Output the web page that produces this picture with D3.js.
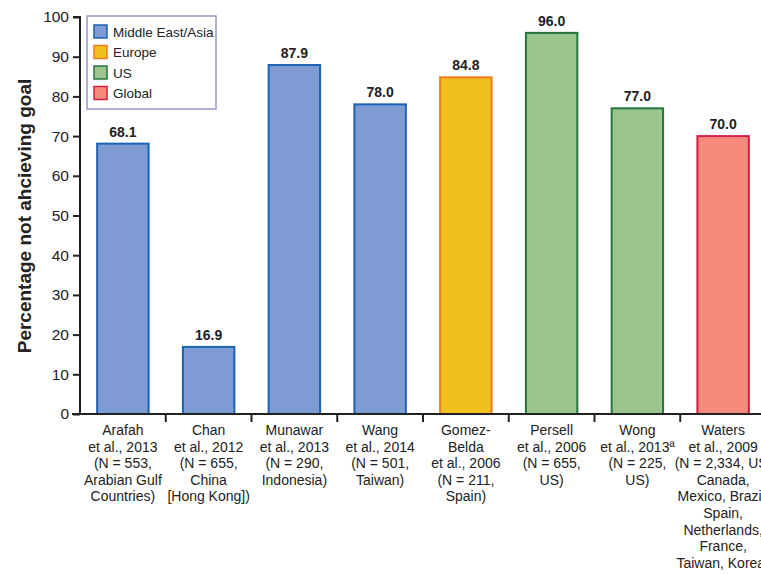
<!DOCTYPE html>
<html>
<head>
<meta charset="utf-8">
<script src="https://cdn.jsdelivr.net/npm/d3@7"></script>
<style>
  body { margin: 0; background: #fff; }
  text { font-family: "Liberation Sans", Arial, Helvetica, sans-serif; }
</style>
</head>
<body>
<div id="chart"></div>
<script>
// datos
var studies = ["Arafah", "Chan", "Munawar", "Wang", "Gomez", "Persell", "Wong", "Waters"];
var values = [68.1, 16.9, 87.9, 78.0, 84.8, 96.0, 77.0, 70.0];
var regions = ["Middle East/Asia", "Middle East/Asia", "Middle East/Asia", "Middle East/Asia", "Europe", "US", "US", "Global"];
var labels = [
    ["Arafah", "et al., 2013", "(N = 553,", "Arabian Gulf", "Countries)"],
    ["Chan", "et al., 2012", "(N = 655,", "China", "[Hong Kong])"],
    ["Munawar", "et al., 2013", "(N = 290,", "Indonesia)"],
    ["Wang", "et al., 2014", "(N = 501,", "Taiwan)"],
    ["Gomez-", "Belda", "et al., 2006", "(N = 211,", "Spain)"],
    ["Persell", "et al., 2006", "(N = 655,", "US)"],
    ["Wong", "et al., 2013ª", "(N = 225,", "US)"],
    ["Waters", "et al., 2009", "(N = 2,334, US,", "Canada,", "Mexico, Brazil,", "Spain,", "Netherlands,", "France,", "Taiwan, Korea)"]
];
var legendNames = ["Middle East/Asia", "Europe", "US", "Global"];
var fills = ["#7f9bd3", "#f0c01e", "#9bc48e", "#f68b7c"];
var strokes = ["#1c62b4", "#f07a1e", "#22773c", "#d11f45"];
var yTicks = [0, 10, 20, 30, 40, 50, 60, 70, 80, 90, 100];

var width = 761;
var height = 574;

var svg = d3.select('#chart')
    .append('svg')
    .attr('width', width)
    .attr('height', height);

var x = d3.scaleBand()
    .domain(studies)
    .range([80, 766])
    .paddingInner(0.4)
    .paddingOuter(0.2);

var y = d3.scaleLinear()
    .domain([0, 100])
    .range([414, 17]);

var fillScale = d3.scaleOrdinal().domain(legendNames).range(fills);
var strokeScale = d3.scaleOrdinal().domain(legendNames).range(strokes);

// barras
svg.append('g')
    .selectAll('rect')
    .data(values)
    .enter()
    .append('rect')
    .attr('x', (d, i) => x(studies[i]))
    .attr('y', (d) => y(d))
    .attr('width', x.bandwidth())
    .attr('height', (d) => y(0) - y(d))
    .attr('fill', (d, i) => fillScale(regions[i]))
    .attr('stroke', (d, i) => strokeScale(regions[i]))
    .attr('stroke-width', 2);

// valores encima
svg.append('g')
    .selectAll('text')
    .data(values)
    .enter()
    .append('text')
    .attr('x', (d, i) => x(studies[i]) + x.bandwidth() / 2)
    .attr('y', (d) => y(d) - 7)
    .attr('text-anchor', 'middle')
    .attr('font-size', 14)
    .attr('font-weight', 'bold')
    .attr('fill', '#222')
    .text((d) => d.toFixed(1));

// eje y
var yAxis = d3.axisLeft(y)
    .tickValues(yTicks)
    .tickSize(7)
    .tickPadding(4);

var gy = svg.append('g')
    .attr('transform', 'translate(80,0)')
    .call(yAxis);
gy.select('.domain').attr('stroke', '#222').attr('stroke-width', 2).attr('d', 'M-7,17H0V414H-7');
gy.selectAll('.tick line').attr('stroke', '#222').attr('stroke-width', 2);
gy.selectAll('.tick text')
    .attr('font-size', 15.5)
    .attr('fill', '#222')
    .style('font-family', '"Liberation Sans", Arial, sans-serif');

// eje x
var step = x.step();
var boundaries = studies.map((s) => x(s) - step * 0.2);
var gx = svg.append('g');
gx.append('line')
    .attr('x1', 72).attr('x2', 766)
    .attr('y1', y(0)).attr('y2', y(0))
    .attr('stroke', '#222').attr('stroke-width', 2);
gx.selectAll('line.tk')
    .data(boundaries.slice(1).concat([boundaries[7] + step]))
    .enter()
    .append('line')
    .attr('class', 'tk')
    .attr('x1', (d) => d).attr('x2', (d) => d)
    .attr('y1', y(0)).attr('y2', y(0) + 8)
    .attr('stroke', '#222').attr('stroke-width', 2);

var catText = svg.append('g')
    .selectAll('text')
    .data(labels)
    .enter()
    .append('text')
    .attr('text-anchor', 'middle')
    .attr('font-size', 14)
    .attr('fill', '#222')
    .attr('x', (d, i) => x(studies[i]) + x.bandwidth() / 2)
    .attr('y', 435);

catText.selectAll('tspan')
    .data((d, i) => d.map((line) => ({ line: line, i: i })))
    .enter()
    .append('tspan')
    .attr('x', (d) => x(studies[d.i]) + x.bandwidth() / 2)
    .attr('dy', (d, j) => j === 0 ? 0 : 16.6)
    .text((d) => d.line);

// titulo eje y
svg.append('text')
    .attr('transform', 'translate(31,216) rotate(-90)')
    .attr('text-anchor', 'middle')
    .attr('font-size', 19)
    .attr('font-weight', 'bold')
    .attr('fill', '#222')
    .text('Percentage not ahcieving goal');

// leyenda
var legend = svg.append('g');
legend.append('rect')
    .attr('x', 87).attr('y', 16)
    .attr('width', 129).attr('height', 93)
    .attr('fill', '#fff')
    .attr('stroke', '#8a88bb')
    .attr('stroke-width', 1.3);

var items = legend.selectAll('g.item')
    .data(legendNames)
    .enter()
    .append('g')
    .attr('class', 'item')
    .attr('transform', (d, i) => 'translate(94,' + (25 + i * 20.5) + ')');

items.append('rect')
    .attr('width', 13).attr('height', 13)
    .attr('fill', (d) => fillScale(d))
    .attr('stroke', (d) => strokeScale(d))
    .attr('stroke-width', 1.5);

items.append('text')
    .attr('x', 19).attr('y', 11.5)
    .attr('font-size', 13.5)
    .attr('fill', '#222')
    .text((d) => d);
</script>
</body>
</html>
